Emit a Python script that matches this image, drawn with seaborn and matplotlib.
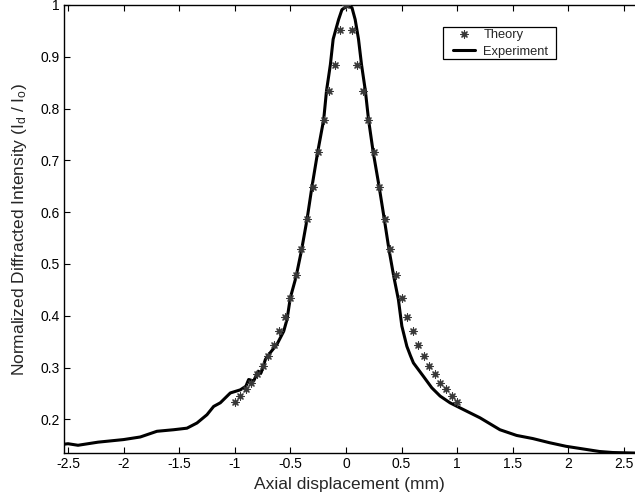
import matplotlib
matplotlib.use("Agg")
import matplotlib.pyplot as plt
from matplotlib.patches import Rectangle
import seaborn as sns
import pandas as pd

# ---------------- data ----------------
theory_x = [-1.0, -0.95, -0.9, -0.85, -0.8, -0.75, -0.7, -0.65, -0.6, -0.55, -0.5,
            -0.45, -0.4, -0.35, -0.3, -0.25, -0.2, -0.15, -0.1, -0.05, 0.0,
            0.05, 0.1, 0.15, 0.2, 0.25, 0.3, 0.35, 0.4, 0.45, 0.5,
            0.55, 0.6, 0.65, 0.7, 0.75, 0.8, 0.85, 0.9, 0.95, 1.0]
theory_y = [0.233, 0.245, 0.258, 0.271, 0.288, 0.304, 0.322, 0.344, 0.370, 0.398, 0.435,
            0.478, 0.528, 0.586, 0.649, 0.716, 0.778, 0.834, 0.885, 0.951, 1.000,
            0.951, 0.885, 0.834, 0.778, 0.716, 0.649, 0.586, 0.528, 0.478, 0.435,
            0.398, 0.370, 0.344, 0.322, 0.304, 0.288, 0.271, 0.258, 0.245, 0.233]

exp_x = [-2.536, -2.5, -2.41, -2.23, -2.0, -1.85, -1.7, -1.55, -1.43, -1.34,
         -1.25, -1.19, -1.13, -1.04, -0.95, -0.90, -0.875, -0.83, -0.79, -0.763,
         -0.724, -0.68, -0.62, -0.56, -0.53, -0.50, -0.45, -0.40, -0.35, -0.305,
         -0.255, -0.20, -0.175, -0.14, -0.115, -0.066, -0.036, 0.01, 0.054, 0.083,
         0.113, 0.14, 0.175, 0.203, 0.245, 0.298, 0.344, 0.387, 0.43, 0.472,
         0.503, 0.548, 0.58, 0.607, 0.697, 0.772, 0.847, 0.936, 1.056, 1.206,
         1.385, 1.535, 1.68, 1.83, 1.98, 2.13, 2.28, 2.40, 2.6]
exp_y = [0.152, 0.153, 0.150, 0.156, 0.161, 0.166, 0.177, 0.180, 0.183, 0.193,
         0.209, 0.225, 0.232, 0.251, 0.257, 0.264, 0.277, 0.274, 0.293, 0.290,
         0.316, 0.329, 0.345, 0.370, 0.393, 0.435, 0.474, 0.526, 0.586, 0.650,
         0.715, 0.779, 0.834, 0.885, 0.934, 0.972, 0.991, 0.998, 0.995, 0.972,
         0.934, 0.885, 0.834, 0.779, 0.716, 0.650, 0.588, 0.528, 0.476, 0.431,
         0.380, 0.341, 0.323, 0.309, 0.283, 0.261, 0.245, 0.232, 0.219, 0.203,
         0.180, 0.169, 0.163, 0.155, 0.148, 0.143, 0.138, 0.136, 0.135]

x_ticks = [-2.5, -2, -1.5, -1, -0.5, 0, 0.5, 1, 1.5, 2, 2.5]
x_tick_labels = ["-2.5", "-2", "-1.5", "-1", "-0.5", "0", "0.5", "1", "1.5", "2", "2.5"]
y_ticks = [0.2, 0.3, 0.4, 0.5, 0.6, 0.7, 0.8, 0.9, 1.0]
y_tick_labels = ["0.2", "0.3", "0.4", "0.5", "0.6", "0.7", "0.8", "0.9", "1"]

series_labels = ["Theory", "Experiment"]
x_label = "Axial displacement (mm)"
y_label = r"Normalized Diffracted Intensity (I$_{\mathregular{d}}$ / I$_{\mathregular{o}}$)"

theory_df = pd.DataFrame({"x": theory_x, "y": theory_y})
exp_df = pd.DataFrame({"x": exp_x, "y": exp_y})

# ---------------- style ----------------
sns.set_style("ticks")
plt.rcParams["font.family"] = ["Liberation Sans", "DejaVu Sans"]
plt.rcParams["mathtext.fontset"] = "custom"
plt.rcParams["mathtext.rm"] = "Liberation Sans"
plt.rcParams["mathtext.it"] = "Liberation Sans:italic"
plt.rcParams["axes.unicode_minus"] = False

W, H = 635, 497
fig = plt.figure(figsize=(W / 100, H / 100), dpi=100)
fig.patch.set_facecolor("white")
ax = fig.add_axes([64 / W, 1 - 453.3 / H, (W - 64) / W, (453.3 - 5) / H])

sns.lineplot(data=exp_df, x="x", y="y", ax=ax, color="black", linewidth=2.2,
             label=series_labels[1], sort=False, estimator=None)
sns.scatterplot(data=theory_df, x="x", y="y", ax=ax, marker=(8, 2, 0), s=26,
                color="#383838", linewidth=0.85, label=series_labels[0], zorder=3)

ax.set_xlim(-2.536, 2.6)
ax.set_ylim(0.1345, 1.0)
ax.set_xticks(x_ticks)
ax.set_xticklabels(x_tick_labels)
ax.set_yticks(y_ticks)
ax.set_yticklabels(y_tick_labels)
ax.tick_params(direction="in", length=4, width=0.8, labelsize=10, pad=3,
               top=True, right=False, colors="black")
for side in ["left", "bottom", "top"]:
    ax.spines[side].set_visible(True)
    ax.spines[side].set_linewidth(1.0)
    ax.spines[side].set_color("black")
ax.spines["right"].set_visible(False)

ax.set_xlabel(x_label, fontsize=12.5, labelpad=4)
ax.set_ylabel(y_label, fontsize=12.5, labelpad=8)

handles, labels = ax.get_legend_handles_labels()
ax.get_legend().remove()
order = [labels.index(series_labels[0]), labels.index(series_labels[1])]
leg = fig.legend([handles[i] for i in order], [labels[i] for i in order],
                 loc="upper left", bbox_to_anchor=(452.5 / W, 1 - 28.5 / H),
                 bbox_transform=fig.transFigure, borderaxespad=0,
                 fontsize=9.3, frameon=False,
                 handlelength=1.75, handletextpad=0.65, labelspacing=0.4,
                 borderpad=0, scatterpoints=1)
leg.set_zorder(6)

# legend frame (MATLAB style: wider side padding than top/bottom)
fig.canvas.draw()
bb = leg.get_window_extent(fig.canvas.get_renderer())
pad_l, pad_r, pad_t, pad_b = 9.5, 7.5, 2.0, 1.5
frame = Rectangle((bb.x0 - pad_l, bb.y0 - pad_b), bb.width + pad_l + pad_r,
                  bb.height + pad_t + pad_b, transform=None, facecolor="white",
                  edgecolor="black", linewidth=0.9, zorder=5)
fig.add_artist(frame)

fig.savefig("out.png", dpi=100, facecolor="white")
